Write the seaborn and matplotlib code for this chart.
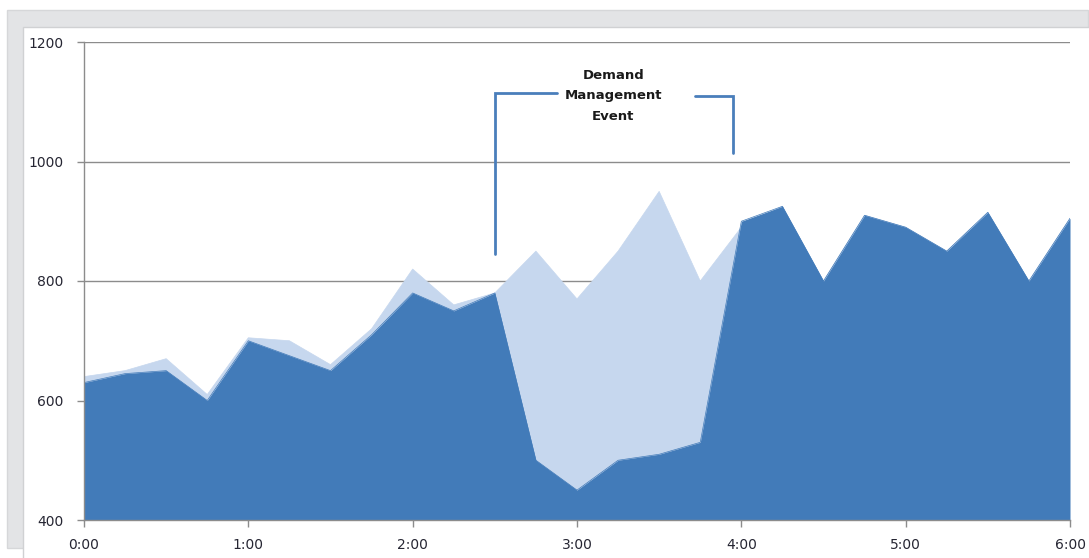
import numpy as np
import pandas as pd
import matplotlib
matplotlib.use("Agg")
import matplotlib.pyplot as plt
from matplotlib.patches import Rectangle
import seaborn as sns

# 15-minute intervals from 0:00 to 6:00 (hours)
hours = [i * 0.25 for i in range(25)]

# Baseline demand (without the event)
baseline = [640, 650, 670, 610, 705, 700, 660, 720, 820, 760, 780, 850, 770,
            850, 950, 800, 890, 925, 800, 910, 890, 850, 915, 800, 905]

# Actual demand (with the demand management event)
actual = [630, 645, 650, 600, 700, 675, 650, 710, 780, 750, 780, 500, 450,
          500, 510, 530, 900, 925, 800, 910, 890, 850, 915, 800, 905]

y_ticks = [400, 600, 800, 1000, 1200]
x_ticks = [0, 1, 2, 3, 4, 5, 6]
x_labels = ["0:00", "1:00", "2:00", "3:00", "4:00", "5:00", "6:00"]

df = pd.DataFrame({"hour": hours, "baseline": baseline, "actual": actual})

sns.set_theme(style="white")
plt.rcParams["font.family"] = ["DejaVu Sans"]

W, H = 1089, 558
fig = plt.figure(figsize=(W / 100, H / 100), dpi=100, facecolor="white")

# Chart frame: grey outer panel with a white chart area inset
def px_rect(x0, y0, x1, y1, z, **kw):
    return Rectangle((x0 / W, 1 - y1 / H), (x1 - x0) / W, (y1 - y0) / H,
                     transform=fig.transFigure, zorder=z, **kw)

fig.patches.append(px_rect(7, 10, 1088, 548, -3, facecolor="#e3e4e6",
                           edgecolor="#d6d7d9", linewidth=1.0))
fig.patches.append(px_rect(23, 27, 1095, 565, -2, facecolor="white",
                           edgecolor="#d0d1d3", linewidth=1.0))

ax = fig.add_axes([84 / W, 1 - 520 / H, 986 / W, 478 / H])
ax.set_facecolor("none")
ax.set_zorder(1)

light = "#c6d7ee"
dark = "#427bb9"

sns.lineplot(data=df, x="hour", y="baseline", ax=ax, color=light, linewidth=0.5, zorder=2)
sns.lineplot(data=df, x="hour", y="actual", ax=ax, color=dark, linewidth=0.5, zorder=3)
ax.fill_between(df["hour"], df["baseline"], 0, color=light, linewidth=0, zorder=2)
ax.fill_between(df["hour"], df["actual"], 0, color=dark, linewidth=0, zorder=3)

ax.set_xlim(0, 6)
ax.set_ylim(400, 1200)
ax.set_xticks(x_ticks)
ax.set_xticklabels(x_labels)
ax.set_yticks(y_ticks)
ax.set_xlabel("")
ax.set_ylabel("")

# Horizontal gridlines
for v in [800, 1000, 1200]:
    ax.axhline(v, color="#8c8c8c", linewidth=1.0, zorder=1)

grey = "#8c8c8c"
for side in ["top", "right"]:
    ax.spines[side].set_visible(False)
ax.spines["left"].set_color(grey)
ax.spines["bottom"].set_color(grey)
ax.spines["left"].set_linewidth(1.0)
ax.spines["bottom"].set_linewidth(1.0)
ax.spines["left"].set_zorder(5)
ax.spines["bottom"].set_zorder(5)
ax.tick_params(axis="both", direction="out", length=5, width=1.0, color=grey,
               labelsize=10, labelcolor="#262633")
ax.tick_params(axis="y", pad=10)
ax.tick_params(axis="x", pad=8)
ax.tick_params(left=True, bottom=True)

# Demand management event bracket and label
bracket = "#4a7ebb"
ax.plot([2.5, 2.5, 2.88], [845, 1115, 1115], color=bracket, linewidth=2.0,
        solid_joinstyle="miter", zorder=6, clip_on=False)
ax.plot([3.72, 3.95, 3.95], [1109, 1109, 1014], color=bracket, linewidth=2.0,
        solid_joinstyle="miter", zorder=6, clip_on=False)
ax.text(3.22, 1110, "Demand\nManagement\nEvent", ha="center", va="center",
        fontsize=9.5, fontweight="bold", color="#1a1a1a", linespacing=1.75,
        zorder=6)

fig.savefig("out.png", dpi=100, facecolor="white")
